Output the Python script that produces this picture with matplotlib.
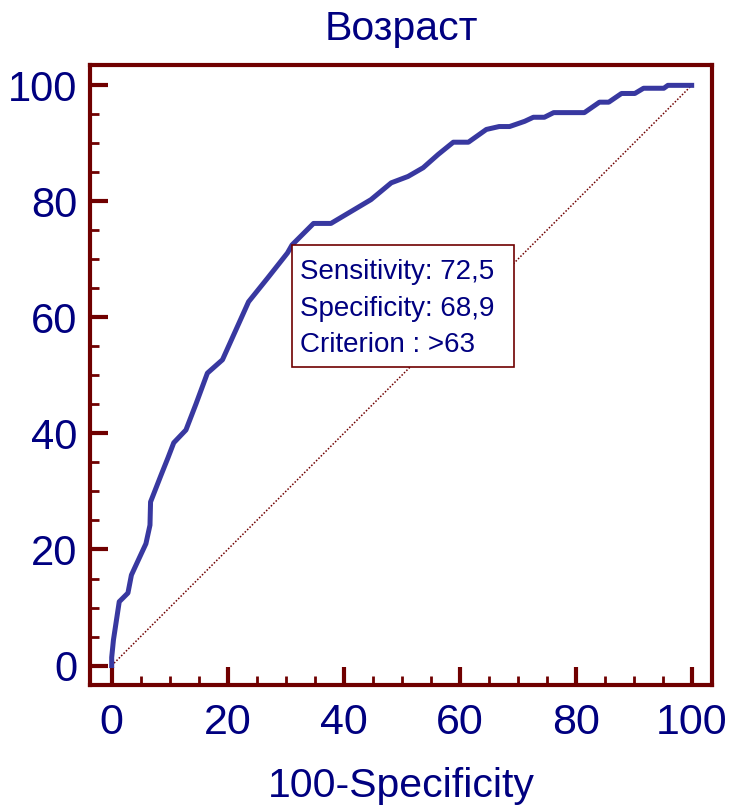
import matplotlib
matplotlib.use("Agg")
import matplotlib.pyplot as plt
from matplotlib.patches import Rectangle
from matplotlib.ticker import MultipleLocator

# ROC curve for age (Возраст)
fpr = [0, 0, 0.3, 1.3, 2.8, 3.4, 4.6, 5.9, 6.6, 6.7, 8.5, 9.7, 10.7, 12.8, 14.5,
       16.5, 19.1, 23.6, 26.9, 30.3, 31.1, 34.8, 37.8, 44.7, 48.2, 51.1, 53.7,
       56.3, 58.9, 61.5, 64.6, 66.8, 68.6, 71.2, 72.7, 74.6, 76.2, 81.5, 84.1,
       85.7, 87.9, 90.2, 91.7, 95.2, 95.9, 100]
tpr = [0, 1.4, 4.4, 11.0, 12.5, 15.6, 18.2, 21.0, 24.2, 28.2, 32.8, 35.8, 38.4,
       40.6, 45.0, 50.4, 52.7, 62.7, 66.8, 71.1, 72.5, 76.2, 76.2, 80.3, 83.2,
       84.3, 85.8, 88.1, 90.2, 90.2, 92.4, 92.9, 92.9, 93.8, 94.5, 94.5, 95.3,
       95.3, 97.1, 97.1, 98.6, 98.6, 99.5, 99.5, 100, 100]

sensitivity = 72.5
specificity = 68.9
criterion = ">63"

ticks = [0, 20, 40, 60, 80, 100]

frame_c = "#700000"
text_c = "#000080"
curve_c = "#3838a0"

plt.rcParams["font.family"] = ["Liberation Sans", "DejaVu Sans"]

fig = plt.figure(figsize=(7.3, 8.08), dpi=100)
ax = fig.add_axes([0.1233, 0.1522, 0.852, 0.7673])

ax.plot([0, 100], [0, 100], color=frame_c, lw=1.1, ls=(0, (1, 1.2)))
ax.plot(fpr, tpr, color=curve_c, lw=3.6, solid_joinstyle="round", zorder=3)

# box with the optimal cut-off, anchored at its point on the curve
bx, by = 100 - specificity, sensitivity
ax.add_patch(Rectangle((bx, 51.5), 38.3, by - 51.5, fill=True, fc="white",
                       ec=frame_c, lw=1.2, zorder=4))
lines = ["Sensitivity: %s" % str(sensitivity).replace(".", ","),
         "Specificity: %s" % str(specificity).replace(".", ","),
         "Criterion : %s" % criterion]
for i, s in enumerate(lines):
    ax.text(bx + 1.4, 67.8 - 6.3 * i, s, color=text_c, fontsize=20,
            va="center", ha="left", zorder=5)

ax.set_xlim(-3.74, 103.5)
ax.set_ylim(-3.36, 103.5)
ax.set_xticks(ticks)
ax.set_yticks(ticks)
ax.xaxis.set_minor_locator(MultipleLocator(5))
ax.yaxis.set_minor_locator(MultipleLocator(5))

for sp in ax.spines.values():
    sp.set_color(frame_c)
    sp.set_linewidth(3)

ax.tick_params(which="major", direction="in", length=13, width=3, color=frame_c)
ax.tick_params(which="minor", direction="in", length=6.5, width=2, color=frame_c)
ax.tick_params(axis="x", labelsize=31, labelcolor=text_c, pad=13)
ax.tick_params(axis="y", labelsize=30, labelcolor=text_c, pad=9)

ax.set_title("Возраст", fontsize=29.5, color=text_c, pad=18)
ax.set_xlabel("100-Specificity", fontsize=29.5, color=text_c, labelpad=17)

fig.savefig("out.png", dpi=100)
